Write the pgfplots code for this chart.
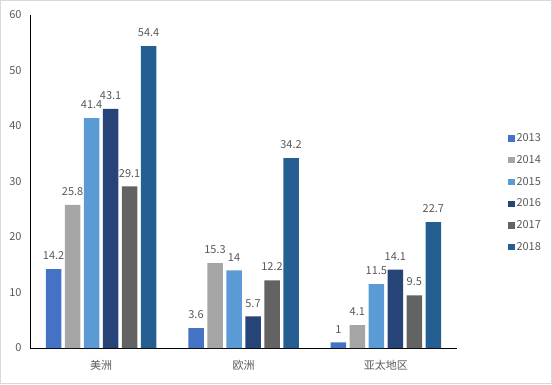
\documentclass[border=0pt]{standalone}
\usepackage{fontspec}
\setmainfont{Noto Sans CJK SC}
\usepackage{pgfplots}
\usepackage{pgfplotstable}
\pgfplotsset{compat=1.18}
\definecolor{cA}{HTML}{4472C4}
\definecolor{cB}{HTML}{A5A5A5}
\definecolor{cC}{HTML}{5B9BD5}
\definecolor{cD}{HTML}{264478}
\definecolor{cE}{HTML}{636363}
\definecolor{cF}{HTML}{255E91}
\definecolor{txt}{HTML}{595959}
\definecolor{frame}{HTML}{D9D9D9}
\pgfplotstableread{
x y2013 y2014 y2015 y2016 y2017 y2018
0 14.2 25.8 41.4 43.1 29.1 54.4
1 3.6 15.3 14 5.7 12.2 34.2
2 1 4.1 11.5 14.1 9.5 22.7
}\datatable
\begin{document}
\begin{tikzpicture}
\draw[frame, line width=1pt] (0.5pt,0.5pt) rectangle (551.5pt,383.5pt);
\begin{axis}[
  at={(30pt,36pt)}, anchor=south west,
  scale only axis, width=427pt, height=333pt,
  ybar, bar width=15.5pt,
  legend image code/.code={\fill[#1] (0pt,-3.2pt) rectangle (6.5pt,3.2pt);},
  xmin=-0.5, xmax=2.5, ymin=0, ymax=60,
  xtick={0,1,2}, xticklabels={美洲,欧洲,亚太地区},
  ytick={0,10,20,30,40,50,60},
  axis x line*=bottom, axis y line*=left,
  axis line style={-, black, line width=0.8pt},
  major tick length=0pt,
  /pgf/number format/assume math mode=true,
  tick label style={font=\fontsize{11}{13}\selectfont, text=txt},
  xticklabel style={yshift=-9pt},
  yticklabel style={xshift=-5pt},
  nodes near coords,
  /pgf/number format/.cd, precision=1, /pgfplots/.cd,
  nodes near coords style={font=\fontsize{11}{13}\selectfont, text=txt, inner sep=0pt, yshift=9pt, /pgf/number format/assume math mode=true},
  legend style={draw=none, fill=none, at={(1.112,0.466)}, anchor=west,
    font=\fontsize{11}{13}\selectfont, text=txt, row sep=8.3pt,
    /tikz/every even column/.append style={column sep=2pt}},
  legend cell align=left,
]
\addplot[fill=cA, draw=none, bar shift=-47.5pt] table[x=x,y=y2013]{\datatable};
\addplot[fill=cB, draw=none, bar shift=-28.5pt] table[x=x,y=y2014]{\datatable};
\addplot[fill=cC, draw=none, bar shift=-9.5pt] table[x=x,y=y2015]{\datatable};
\addplot[fill=cD, draw=none, bar shift=9.5pt] table[x=x,y=y2016]{\datatable};
\addplot[fill=cE, draw=none, bar shift=28.5pt] table[x=x,y=y2017]{\datatable};
\addplot[fill=cF, draw=none, bar shift=47.5pt] table[x=x,y=y2018]{\datatable};
\legend{2013,2014,2015,2016,2017,2018}
\end{axis}
\end{tikzpicture}
\end{document}
